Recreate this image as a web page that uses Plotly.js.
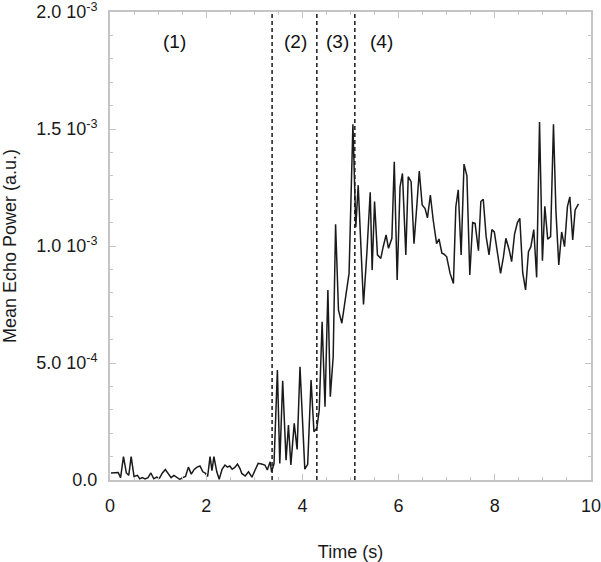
<!DOCTYPE html>
<html>
<head>
<meta charset="utf-8">
<script src="https://cdn.plot.ly/plotly-3.0.1.min.js"></script>
<style>html,body{margin:0;padding:0;background:#fff}#chart{width:601px;height:562px}</style>
</head>
<body>
<div id="chart"></div>
<script>
// Time (s)
const time = [0.02,0.10,0.17,0.22,0.28,0.34,0.39,0.44,0.50,0.57,0.62,0.67,0.73,0.79,0.85,0.91,0.97,1.03,1.09,1.15,1.21,1.27,1.33,1.39,1.45,1.51,1.57,1.63,1.69,1.75,1.81,1.87,1.93,1.98,2.03,2.08,2.12,2.16,2.22,2.27,2.33,2.39,2.44,2.49,2.54,2.60,2.65,2.70,2.74,2.81,2.88,2.95,3.01,3.08,3.15,3.22,3.27,3.33,3.36,
  3.41,3.48,3.53,3.59,3.66,3.71,3.76,3.83,3.89,3.95,4.00,4.05,4.11,4.18,4.24,4.30,4.35,4.41,4.47,4.53,4.58,4.64,4.69,4.75,4.82,4.89,4.97,5.05,5.11,5.16,5.27,5.34,5.41,5.45,5.50,5.56,5.63,5.68,5.74,5.79,5.86,5.91,5.97,6.03,6.08,6.15,6.20,6.26,6.32,6.38,6.43,6.49,6.55,6.60,6.66,6.72,6.79,6.84,6.90,6.94,7.00,7.07,7.14,7.19,7.24,7.30,7.36,7.42,7.48,7.54,7.59,7.66,7.71,7.76,7.82,7.88,7.94,7.99,8.05,8.12,8.18,8.23,8.30,8.35,8.41,8.47,8.52,8.58,8.64,8.70,8.75,8.81,8.87,8.93,8.99,9.04,9.10,9.16,9.22,9.27,9.33,9.39,9.45,9.51,9.56,9.62,9.67,9.74];
// Mean echo power (units of 1e-4 a.u.)
const power_e4 = [0.3,0.3,0.32,0.1,1.0,0.3,0.2,1.0,0.15,0.2,0.05,0.1,0.05,0.1,0.3,0.05,0.12,0.08,0.3,0.45,0.25,0.1,0.2,0.12,0.03,0.1,0.15,0.55,0.25,0.45,0.55,0.6,0.35,0.3,0.15,1.0,0.4,1.0,0.35,0.03,0.46,0.64,0.55,0.6,0.46,0.55,0.68,0.5,0.28,0.17,0.35,0.12,0.4,0.71,0.68,0.64,0.43,0.78,0.35,
  0.7,4.7,0.71,4.24,0.85,2.35,0.64,2.42,1.31,4.84,2.56,0.46,0.67,4.27,2.06,2.21,2.99,6.76,3.13,8.12,3.56,5.27,10.93,7.26,6.70,7.8,8.83,15.2,10.8,12.6,7.5,9.69,12.3,8.97,11.9,9.62,9.47,9.97,10.47,9.90,10.33,13.6,8.55,12.53,13.1,9.62,12.96,12.75,10.1,11.75,13.2,11.75,11.6,11.2,12.18,11.1,10.1,10.3,9.69,9.66,9.54,8.83,8.4,11.68,12.4,9.62,13.5,13.0,8.76,11.0,10.97,9.8,11.9,12.0,10.4,9.62,10.7,10.6,9.69,8.83,9.54,10.33,9.83,9.33,10.5,11.0,11.18,8.86,8.12,9.76,9.97,10.7,8.66,15.3,9.37,11.7,10.29,10.4,15.2,11.54,9.19,10.6,9.97,11.68,12.1,10.26,11.54,11.8];
// Phase boundaries (s)
const phaseBounds = [3.37, 4.30, 5.09];
// Phase labels
const phaseLabels = ["(1)", "(2)", "(3)", "(4)"];
const phaseLabelX = [1.34, 3.85, 4.72, 5.65];
const phaseLabelY = 1.875e-3;
// Y ticks
const yTickVals = [0, 5e-4, 1e-3, 1.5e-3, 2e-3];
const yTickText = ["0.0", "5.0 10<sup>-4</sup>", "1.0 10<sup>-3</sup>", "1.5 10<sup>-3</sup>", "2.0 10<sup>-3</sup>"];

const power = power_e4.map(v => v * 1e-4);
const font = "Liberation Sans, Arial, sans-serif";
const frame = "#c4c4c4";

const data = [{
  x: time, y: power, type: "scatter", mode: "lines",
  line: {color: "#1a1a1a", width: 1.5}, hoverinfo: "none"
}];

const shapes = phaseBounds.map(t => ({
  type: "line", xref: "x", yref: "paper", x0: t, x1: t, y0: 0, y1: 1,
  line: {color: "#1a1a1a", width: 1.5, dash: "4px,3px"}
}));

const annotations = phaseLabels.map((s, i) => ({
  x: phaseLabelX[i], y: phaseLabelY, xref: "x", yref: "y", text: s, showarrow: false,
  font: {family: font, size: 19, color: "#111"}
}));

const layout = {
  width: 601, height: 562,
  margin: {l: 110, r: 10, t: 12, b: 82},
  paper_bgcolor: "#fff", plot_bgcolor: "#fff",
  showlegend: false,
  font: {family: font, size: 17, color: "#1a1a1a"},
  xaxis: {
    range: [0, 10], tickvals: [0, 2, 4, 6, 8, 10], ticks: "inside", ticklen: 6, tickwidth: 1, tickcolor: frame,
    minor: {dtick: 0.5, ticks: "inside", ticklen: 3, tickcolor: frame, showgrid: false},
    showline: true, linecolor: frame, linewidth: 2, mirror: "allticks",
    showgrid: false, zeroline: false, tickfont: {size: 18, family: font, color: "#1a1a1a"},
    ticklabelstandoff: 8, ticklabeloverflow: "allow",
    title: {text: "Time (s)", font: {size: 18, family: font}, standoff: 34}, automargin: false
  },
  yaxis: {
    range: [0, 2e-3], tickvals: yTickVals, ticktext: yTickText, ticks: "inside", ticklen: 6, tickwidth: 1, tickcolor: frame,
    minor: {tickvals: [1e-4,2e-4,3e-4,4e-4,6e-4,7e-4,8e-4,9e-4,1.1e-3,1.2e-3,1.3e-3,1.4e-3,1.6e-3,1.7e-3,1.8e-3,1.9e-3], ticks: "inside", ticklen: 3, tickcolor: frame, showgrid: false},
    showline: true, linecolor: frame, linewidth: 2, mirror: "allticks",
    showgrid: false, zeroline: false, tickfont: {size: 18, family: font, color: "#1a1a1a"},
    ticklabelstandoff: 7, ticklabeloverflow: "allow",
    title: {text: "Mean Echo Power (a.u.)", font: {size: 18, family: font}, standoff: 17}, automargin: false
  },
  shapes: shapes,
  annotations: annotations
};

Plotly.newPlot("chart", data, layout, {displayModeBar: false, staticPlot: true});
</script>
</body>
</html>
